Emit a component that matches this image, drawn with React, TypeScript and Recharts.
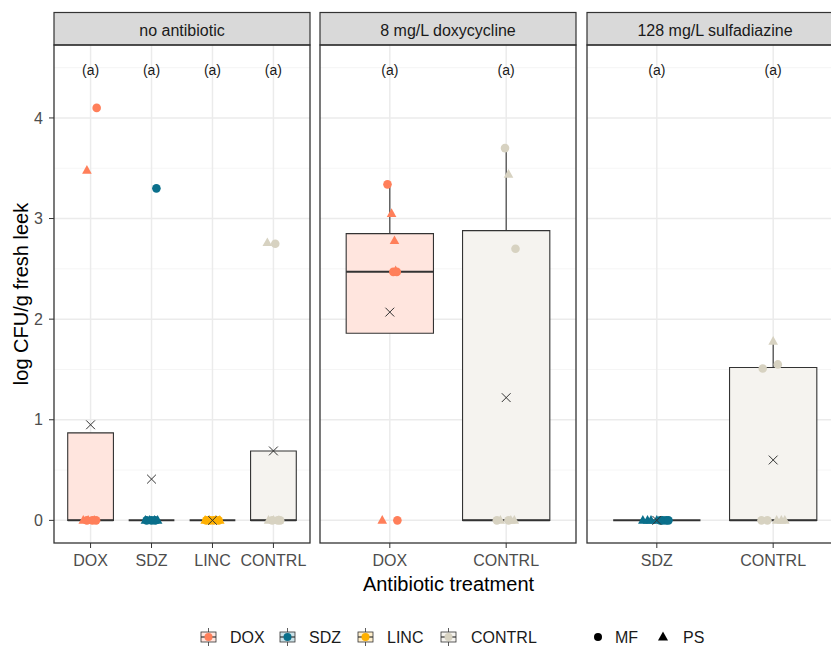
import React from 'react';
import { ComposedChart, Scatter, XAxis, YAxis, CartesianGrid, ReferenceArea, ReferenceLine } from 'recharts';

const FONT = '"Liberation Sans", Arial, Helvetica, sans-serif';

const facetTitles = ['no antibiotic', '8 mg/L doxycycline', '128 mg/L sulfadiazine'];
const treatments = ['DOX', 'SDZ', 'LINC', 'CONTRL'];
const sampleTypes = ['MF', 'PS'];

const pointColors: Record<string, string> = { DOX: '#FF7F5A', SDZ: '#0A6F8B', LINC: '#FFB000', CONTRL: '#D7D2C1' };
const boxFills: Record<string, string> = { DOX: '#FFE5DE', SDZ: '#CCE2E8', LINC: '#FFEFCC', CONTRL: '#F5F3EF' };

const yTicks = [0, 1, 2, 3, 4];
const yMinor = [0.5, 1.5, 2.5, 3.5, 4.5];
const yDomain = [-0.225, 4.725];

// facet 1: no antibiotic
const noAbGroups = ['DOX', 'SDZ', 'LINC', 'CONTRL'];
const noAbQ1 = [0, 0, 0, 0];
const noAbMedian = [0, 0, 0, 0];
const noAbQ3 = [0.87, 0, 0, 0.69];
const noAbUpper = [0.87, 0, 0, 0.69];
const noAbMean = [0.95, 0.41, 0, 0.69];
const noAbLetters = ['(a)', '(a)', '(a)', '(a)'];
const noAbMfY = [[4.1, 0, 0, 0], [3.3, 0, 0, 0], [0, 0, 0, 0], [2.75, 0, 0, 0]];
const noAbMfJit = [[0.1, -0.06, 0.03, 0.09], [0.08, -0.08, 0.0, 0.06], [-0.1, 0.02, 0.1, -0.04], [0.03, -0.02, 0.07, 0.11]];
const noAbPsY = [[3.48, 0, 0, 0], [0, 0, 0, 0], [0, 0, 0, 0], [2.76, 0, 0, 0]];
const noAbPsJit = [[-0.06, -0.12, -0.04, 0.06], [-0.1, -0.03, 0.05, 0.1], [-0.12, 0.05, 0.12, -0.05], [-0.1, -0.08, 0.0, 0.09]];

// facet 2: 8 mg/L doxycycline
const doxGroups = ['DOX', 'CONTRL'];
const doxQ1 = [1.86, 0];
const doxMedian = [2.47, 0];
const doxQ3 = [2.85, 2.88];
const doxUpper = [3.34, 3.7];
const doxMean = [2.07, 1.22];
const doxLetters = ['(a)', '(a)'];
const doxMfY = [[3.34, 2.47, 2.47, 0], [3.7, 2.7, 0, 0]];
const doxMfJit = [[-0.02, 0.03, 0.06, 0.065], [-0.01, 0.08, -0.08, 0.02]];
const doxPsY = [[3.05, 2.78, 2.48, 0], [3.44, 0, 0, 0]];
const doxPsJit = [[0.015, 0.04, 0.05, -0.065], [0.02, -0.05, 0.04, 0.07]];

// facet 3: 128 mg/L sulfadiazine
const sdzGroups = ['SDZ', 'CONTRL'];
const sdzQ1 = [0, 0];
const sdzMedian = [0, 0];
const sdzQ3 = [0, 1.52];
const sdzUpper = [0, 1.78];
const sdzMean = [0, 0.6];
const sdzLetters = ['(a)', '(a)'];
const sdzMfY = [[0, 0, 0, 0], [1.51, 1.55, 0, 0]];
const sdzMfJit = [[0.05, 0.08, 0.1, 0.03], [-0.09, 0.04, -0.1, -0.05]];
const sdzPsY = [[0, 0, 0, 0], [1.78, 0, 0, 0]];
const sdzPsJit = [[-0.12, -0.08, -0.05, 0.0], [0.0, 0.03, 0.07, 0.1]];

const BOX_HALF = 0.375;
const PLOT_TOP = 45;
const PLOT_W = 256;
const PLOT_H = 498;
const panelLefts = [54, 320, 587];

const tickStyle = { fill: '#4D4D4D', fontSize: 16, fontFamily: FONT };

function PointShape(props: any) {
  const { cx, cy, payload } = props;
  const c = pointColors[payload.group];
  if (payload.sample === 'MF') return <circle cx={cx} cy={cy} r={4.3} fill={c} />;
  return <path d={`M${cx},${cy - 5.3} L${cx + 4.8},${cy + 3.4} L${cx - 4.8},${cy + 3.4} Z`} fill={c} />;
}

function MeanShape(props: any) {
  const { cx, cy } = props;
  const s = 4.4;
  return (
    <path d={`M${cx - s},${cy - s} L${cx + s},${cy + s} M${cx - s},${cy + s} L${cx + s},${cy - s}`} stroke="#333" strokeWidth={1} fill="none" />
  );
}

function LetterShape(props: any) {
  const { cx, cy, payload } = props;
  return (
    <text x={cx} y={cy + 7} textAnchor="middle" fontSize={14} fontFamily={FONT} fill="#1A1A1A">{payload.label}</text>
  );
}

interface PanelProps {
  groups: string[]; q1: number[]; median: number[]; q3: number[]; upper: number[]; mean: number[];
  letters: string[]; mfY: number[][]; mfJit: number[][]; psY: number[][]; psJit: number[][];
  left: number; showY: boolean;
}

function Panel({ groups, q1, median, q3, upper, mean, letters, mfY, mfJit, psY, psJit, left, showY }: PanelProps) {
  const n = groups.length;
  const positions = groups.map((_, i) => i + 1);
  const points = groups.flatMap((g, i) => [
    ...mfY[i].map((y, k) => ({ x: i + 1 + mfJit[i][k], y, group: g, sample: sampleTypes[0] })),
    ...psY[i].map((y, k) => ({ x: i + 1 + psJit[i][k], y, group: g, sample: sampleTypes[1] })),
  ]);
  const means = groups.map((g, i) => ({ x: i + 1, y: mean[i], group: g }));
  const labels = groups.map((g, i) => ({ x: i + 1, y: 4.5, label: letters[i] }));
  const yw = showY ? 54 : 0;

  return (
    <div style={{ position: 'absolute', left: left - yw, top: 0 }}>
      <ComposedChart width={PLOT_W + yw} height={600} margin={{ top: PLOT_TOP, right: 0, bottom: 17, left: 0 }}>
        <CartesianGrid horizontalValues={yMinor} vertical={false} stroke="#F2F2F2" strokeWidth={0.8} />
        <CartesianGrid horizontalValues={yTicks} verticalValues={positions} stroke="#EBEBEB" strokeWidth={1.5} />
        <XAxis
          type="number" dataKey="x" domain={[0.4, n + 0.6]} ticks={positions} interval={0} allowDataOverflow
          tickFormatter={(v) => groups[v - 1] ?? ''} axisLine={false} tickLine={{ stroke: '#333' }}
          tickSize={5} tickMargin={7} tick={tickStyle} height={40}
        />
        <YAxis
          type="number" dataKey="y" domain={yDomain} ticks={yTicks} allowDataOverflow hide={!showY}
          width={yw} axisLine={false} tickLine={{ stroke: '#333' }} tickSize={5} tickMargin={6} tick={tickStyle}
        />
        {groups.map((g, i) =>
          q3[i] > q1[i] ? (
            <ReferenceArea key={`box-${g}`} x1={i + 1 - BOX_HALF} x2={i + 1 + BOX_HALF} y1={q1[i]} y2={q3[i]}
              fill={boxFills[g]} fillOpacity={1} stroke="#333" strokeWidth={1.1} />
          ) : null
        )}
        {groups.map((g, i) =>
          upper[i] > q3[i] ? (
            <ReferenceLine key={`wh-${g}`} segment={[{ x: i + 1, y: q3[i] }, { x: i + 1, y: upper[i] }]} stroke="#333" strokeWidth={1.1} />
          ) : null
        )}
        {groups.map((g, i) => (
          <ReferenceLine key={`med-${g}`} segment={[{ x: i + 1 - BOX_HALF, y: median[i] }, { x: i + 1 + BOX_HALF, y: median[i] }]}
            stroke="#333" strokeWidth={2} />
        ))}
        <Scatter data={points} shape={PointShape} isAnimationActive={false} />
        <Scatter data={means} shape={MeanShape} isAnimationActive={false} />
        <Scatter data={labels} shape={LetterShape} isAnimationActive={false} />
      </ComposedChart>
    </div>
  );
}

function Overlay() {
  const legendKeyX = [200, 279, 357, 440];
  const legendTextX = [230, 309, 387, 471];
  return (
    <svg width={831} height={646} style={{ position: 'absolute', left: 0, top: 0, pointerEvents: 'none' }}>
      {panelLefts.map((x, i) => (
        <g key={facetTitles[i]}>
          <rect x={x} y={12.5} width={PLOT_W} height={PLOT_TOP - 12.5} fill="#D9D9D9" stroke="#333" strokeWidth={1.2} />
          <text x={x + PLOT_W / 2} y={36} textAnchor="middle" fontSize={16} fontFamily={FONT} fill="#1A1A1A">{facetTitles[i]}</text>
          <rect x={x} y={PLOT_TOP} width={PLOT_W} height={PLOT_H} fill="none" stroke="#333" strokeWidth={1.3} />
        </g>
      ))}
      <text x={(54 + 843) / 2} y={591} textAnchor="middle" fontSize={20} fontFamily={FONT} fill="#000">Antibiotic treatment</text>
      <text transform="translate(28,294) rotate(-90)" textAnchor="middle" fontSize={20} fontFamily={FONT} fill="#000">log CFU/g fresh leek</text>
      {treatments.map((t, i) => (
        <g key={t}>
          <line x1={legendKeyX[i] + 8.5} y1={628} x2={legendKeyX[i] + 8.5} y2={646} stroke="#333" strokeWidth={0.8} />
          <rect x={legendKeyX[i] + 1} y={632} width={15} height={10} fill={boxFills[t]} stroke="#333" strokeWidth={0.8} />
          <line x1={legendKeyX[i] + 1} y1={637} x2={legendKeyX[i] + 16} y2={637} stroke="#333" strokeWidth={1.2} />
          <circle cx={legendKeyX[i] + 8.5} cy={637} r={4} fill={pointColors[t]} />
          <text x={legendTextX[i]} y={643} fontSize={16} fontFamily={FONT} fill="#1A1A1A">{t}</text>
        </g>
      ))}
      <circle cx={598} cy={637} r={4} fill="#000" />
      <text x={615} y={643} fontSize={16} fontFamily={FONT} fill="#1A1A1A">{sampleTypes[0]}</text>
      <path d="M663,631.5 L668,640.5 L658,640.5 Z" fill="#000" />
      <text x={683} y={643} fontSize={16} fontFamily={FONT} fill="#1A1A1A">{sampleTypes[1]}</text>
    </svg>
  );
}

export default function App() {
  return (
    <div style={{ position: 'absolute', left: 0, top: 0, width: 831, height: 646, overflow: 'hidden', background: '#fff', fontFamily: FONT }}>
      <Panel groups={noAbGroups} q1={noAbQ1} median={noAbMedian} q3={noAbQ3} upper={noAbUpper} mean={noAbMean}
        letters={noAbLetters} mfY={noAbMfY} mfJit={noAbMfJit} psY={noAbPsY} psJit={noAbPsJit} left={panelLefts[0]} showY />
      <Panel groups={doxGroups} q1={doxQ1} median={doxMedian} q3={doxQ3} upper={doxUpper} mean={doxMean}
        letters={doxLetters} mfY={doxMfY} mfJit={doxMfJit} psY={doxPsY} psJit={doxPsJit} left={panelLefts[1]} showY={false} />
      <Panel groups={sdzGroups} q1={sdzQ1} median={sdzMedian} q3={sdzQ3} upper={sdzUpper} mean={sdzMean}
        letters={sdzLetters} mfY={sdzMfY} mfJit={sdzMfJit} psY={sdzPsY} psJit={sdzPsJit} left={panelLefts[2]} showY={false} />
      <Overlay />
    </div>
  );
}
